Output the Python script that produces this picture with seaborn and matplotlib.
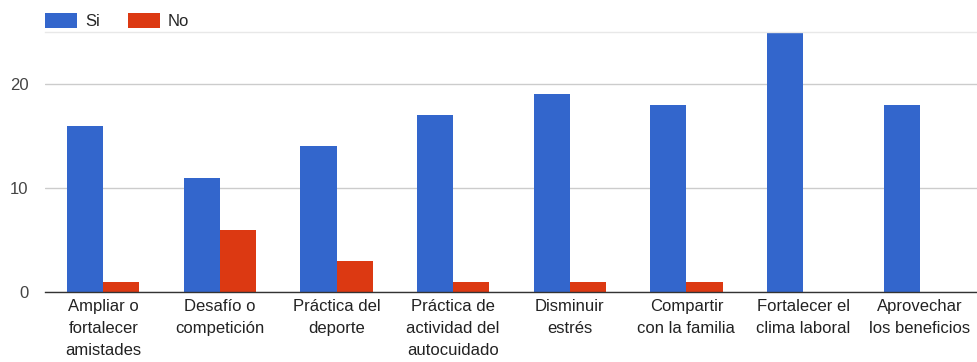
import matplotlib
matplotlib.use("Agg")
import matplotlib.pyplot as plt
import seaborn as sns
import pandas as pd

categories = [
    "Ampliar o\nfortalecer\namistades",
    "Desafío o\ncompetición",
    "Práctica del\ndeporte",
    "Práctica de\nactividad del\nautocuidado",
    "Disminuir\nestrés",
    "Compartir\ncon la familia",
    "Fortalecer el\nclima laboral",
    "Aprovechar\nlos beneficios",
]
si_values = [16, 11, 14, 17, 19, 18, 25, 18]
no_values = [1, 6, 3, 1, 1, 1, 0, 0]
series_names = ["Si", "No"]
y_ticks = [0, 10, 20]

df = pd.DataFrame({
    "cat": categories * 2,
    "serie": [series_names[0]] * len(categories) + [series_names[1]] * len(categories),
    "val": si_values + no_values,
})

sns.set_theme(style="white")
plt.rcParams["font.family"] = ["Liberation Sans", "DejaVu Sans"]

fig = plt.figure(figsize=(9.78, 3.62), dpi=100)
ax = fig.add_axes([45 / 978, 1 - 292 / 362, 1 - 45 / 978, (292 - 32) / 362])

palette = {"Si": "#3366cc", "No": "#dc3912"}
sns.barplot(data=df, x="cat", y="val", hue="serie", palette=palette,
            width=0.62, linewidth=0, saturation=1, ax=ax, legend=True)

ax.set_ylim(0, 25)
ax.set_xlim(-0.5, len(categories) - 0.5)
ax.set_yticks(y_ticks)
ax.set_yticklabels([str(t) for t in y_ticks], fontsize=12, color="#444444")
ax.tick_params(axis="y", length=0, pad=12)
ax.tick_params(axis="x", length=0, pad=5, labelsize=12, labelcolor="#222222")
for lbl in ax.get_xticklabels():
    lbl.set_linespacing(1.6)
ax.set_xlabel("")
ax.set_ylabel("")
ax.yaxis.grid(True, color="#cccccc", linewidth=1)
ax.set_axisbelow(True)
for s in ["left", "right"]:
    ax.spines[s].set_visible(False)
ax.spines["top"].set_color("#e8e8e8")
ax.spines["top"].set_linewidth(1)
ax.spines["bottom"].set_color("#333333")
ax.spines["bottom"].set_linewidth(1)

leg = ax.get_legend()
handles = leg.legend_handles
leg.remove()
fig.legend(handles, series_names, loc="upper left", bbox_to_anchor=(45 / 978, 1 - 13 / 362),
           ncol=2, frameon=False, fontsize=12, handlelength=1.92, handleheight=1.0,
           handletextpad=0.48, columnspacing=1.68, borderaxespad=0, borderpad=0)

fig.savefig("out.png", dpi=100)
